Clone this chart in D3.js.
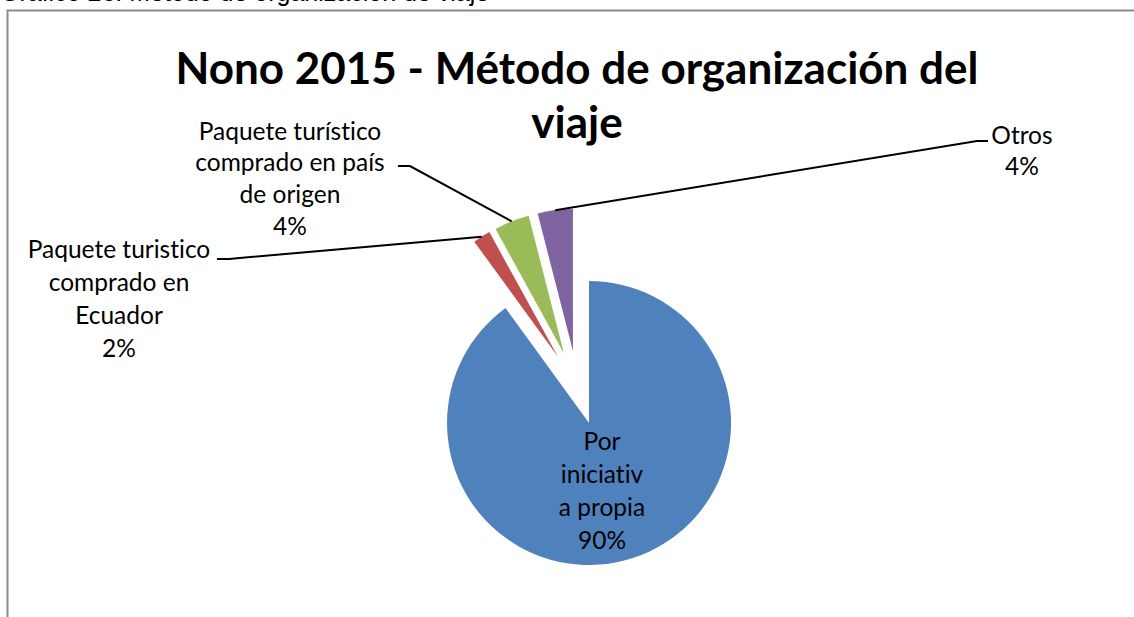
<!DOCTYPE html>
<html>
<head>
<meta charset="utf-8">
<script src="https://cdn.jsdelivr.net/npm/d3@7"></script>
<style>
  html, body { margin: 0; padding: 0; background: #ffffff; }
  svg { display: block; }
  text { font-variant-ligatures: none; font-feature-settings: "liga" 0; }
</style>
</head>
<body>
<svg id="chart" width="1134" height="617"></svg>
<script>
// Slice data: one entry per category, in drawing order (clockwise from 12 o'clock)
const categories = [
  "Por iniciativa propia",
  "Paquete turistico comprado en Ecuador",
  "Paquete turístico comprado en país de origen",
  "Otros"
];
const percentages = [90, 2, 4, 4];
const sliceColors = ["#4F81BD", "#C0504D", "#9BBB59", "#8064A2"];
// Wrapped label text for each slice (name lines, then the value line is added)
const labelLines = [
  ["Por", "iniciativ", "a propia"],
  ["Paquete turistico", "comprado en", "Ecuador"],
  ["Paquete turístico", "comprado en país", "de origen"],
  ["Otros"]
];
const titleLines = ["Nono 2015 - Método de organización del", "viaje"];
const captionText = "Gráfico 26: Método de organización de viaje";

const svg = d3.select("#chart");
const labelFont = "Lato, 'Open Sans', sans-serif";

// Caption above the frame (partly cut by the top edge)
svg.append("text")
  .attr("x", 0).attr("y", 0.5)
  .attr("font-family", "'Liberation Sans', Arial, sans-serif")
  .attr("font-size", 25)
  .attr("fill", "#000")
  .text(captionText);

// Chart frame (top and left edges visible)
svg.append("path")
  .attr("d", "M7.5,617 L7.5,10.5 L1134,10.5")
  .attr("fill", "none")
  .attr("stroke", "#8a8a8a")
  .attr("stroke-width", 2);

// Title
svg.append("g").selectAll("text")
  .data(titleLines)
  .join("text")
  .attr("x", 577)
  .attr("y", (d, i) => 84 + i * 54)
  .attr("text-anchor", "middle")
  .attr("font-family", labelFont)
  .attr("font-weight", "bold")
  .attr("font-size", 44)
  .attr("fill", "#000")
  .text(d => d);

// Pie geometry
const cx = 577.6, cy = 387.8, radius = 142, explode = 37;

const data = categories.map((c, i) => ({
  name: c, value: percentages[i], color: sliceColors[i], lines: labelLines[i]
}));

const pie = d3.pie().sort(null).value(d => d.value).startAngle(0).endAngle(2 * Math.PI);
const arcs = pie(data);
const arc = d3.arc().innerRadius(0).outerRadius(radius);

const mid = d => (d.startAngle + d.endAngle) / 2;
const offset = d => [explode * Math.sin(mid(d)), -explode * Math.cos(mid(d))];

const g = svg.append("g").attr("transform", `translate(${cx},${cy})`);

g.selectAll("path.slice")
  .data(arcs)
  .join("path")
  .attr("class", "slice")
  .attr("transform", d => `translate(${offset(d)[0]},${offset(d)[1]})`)
  .attr("d", arc)
  .attr("fill", d => d.data.color);

// Label placements (label center x, first line center y, line height) and leader anchors
const labelPos = [
  { x: 602, y: 441, lh: 33, leader: null },
  { x: 119, y: 249, lh: 33, leader: { x: 229, y: 259, hx: 217 } },
  { x: 290, y: 131, lh: 31.7, leader: { x: 410, y: 166, hx: 398 } },
  { x: 1022, y: 135, lh: 31, leader: { x: 977, y: 141, hx: 988 } }
];

// Leader lines from the slice's outer arc midpoint to the label
arcs.forEach((d, i) => {
  const p = labelPos[i];
  if (!p.leader) return;
  const o = offset(d);
  const a = mid(d);
  const sx = cx + o[0] + radius * Math.sin(a);
  const sy = cy + o[1] - radius * Math.cos(a);
  svg.append("path")
    .attr("d", `M${sx},${sy} L${p.leader.x},${p.leader.y} L${p.leader.hx},${p.leader.y}`)
    .attr("fill", "none")
    .attr("stroke", "#000")
    .attr("stroke-width", 2);
});

// Data labels: name lines followed by the percentage
arcs.forEach((d, i) => {
  const p = labelPos[i];
  const lines = d.data.lines.concat([d.data.value + "%"]);
  svg.append("g").selectAll("text")
    .data(lines)
    .join("text")
    .attr("x", p.x)
    .attr("y", (t, j) => p.y + j * p.lh)
    .attr("dy", "0.35em")
    .attr("text-anchor", "middle")
    .attr("font-family", labelFont)
    .attr("font-size", 24.5)
    .attr("fill", "#000")
    .text(t => t);
});
</script>
</body>
</html>
